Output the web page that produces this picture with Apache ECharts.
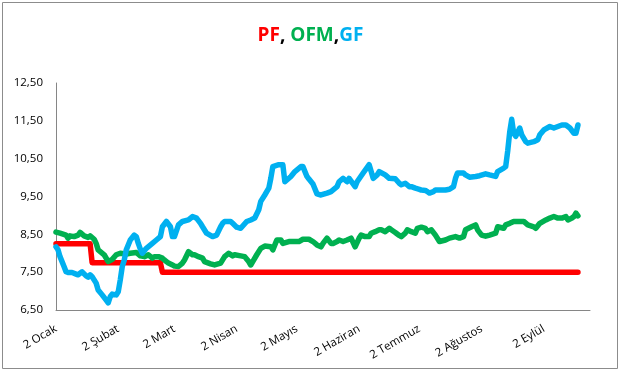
<!DOCTYPE html>
<html>
<head>
<meta charset="utf-8">
<script src="https://cdn.jsdelivr.net/npm/echarts@6/dist/echarts.min.js"></script>
<style>
  html, body { margin: 0; padding: 0; background: #fff; }
  #chart { width: 621px; height: 375px; }
</style>
</head>
<body>
<div id="chart"></div>
<script>
// ---- Data (year 2015, dates as MM-DD) ----
const year = 2015;
const axisStart = '01-02';
const axisEnd = '09-25';

const tickDates = ['01-02', '02-02', '03-02', '04-02', '05-02', '06-02', '07-02', '08-02', '09-02'];
const tickLabels = ['2 Ocak', '2 Şubat', '2 Mart', '2 Nisan', '2 Mayıs', '2 Haziran', '2 Temmuz', '2 Ağustos', '2 Eylül'];

const yTicks = [6.5, 7.5, 8.5, 9.5, 10.5, 11.5, 12.5];

// PF (policy rate)
const pfDates  = ['01-02', '01-19', '01-20', '02-23', '02-24', '09-19'];
const pfValues = [8.25, 8.25, 7.75, 7.75, 7.50, 7.50];

// OFM
const ofmDates = ['01-02','01-04','01-07','01-08','01-09','01-11','01-13','01-14','01-16','01-18','01-19','01-21','01-22','01-23','01-26','01-28','01-30',
  '02-01','02-03','02-06','02-08','02-11','02-13','02-15','02-17','02-19','02-20','02-22','02-24','02-25','02-27',
  '03-01','03-02','03-04','03-06','03-07','03-09','03-11','03-12','03-14','03-16','03-17','03-20','03-22','03-25','03-27','03-29','03-31',
  '04-01','04-04','04-06','04-08','04-09','04-10','04-12','04-14','04-16','04-19','04-20','04-22','04-24','04-25','04-28','04-30',
  '05-03','05-05','05-08','05-10','05-12','05-14','05-15','05-17','05-19','05-20','05-22','05-23','05-25','05-27','05-29','05-31',
  '06-02','06-03','06-05','06-07','06-08','06-10','06-12','06-13','06-15','06-17','06-18','06-20','06-22','06-23','06-25','06-26','06-28','06-30',
  '07-01','07-03','07-05','07-06','07-08','07-10','07-12','07-15','07-17','07-20','07-22','07-24','07-25','07-28','07-30','07-31',
  '08-02','08-04','08-06','08-09','08-10','08-13','08-14','08-16','08-18','08-20','08-23','08-25','08-28','08-29','08-31',
  '09-03','09-05','09-07','09-09','09-11','09-13','09-14','09-16','09-17','09-18','09-19'];
const ofmValues = [8.56,8.53,8.48,8.40,8.46,8.44,8.48,8.55,8.46,8.42,8.46,8.37,8.26,8.09,7.96,7.78,7.84,
  7.96,8.00,7.98,8.00,8.02,7.93,7.91,7.96,7.87,7.91,7.91,7.87,7.82,7.74,
  7.69,7.66,7.65,7.74,7.82,8.04,7.96,7.96,7.91,7.87,7.78,7.72,7.69,7.74,7.91,8.00,7.93,
  7.96,7.93,7.91,7.78,7.69,7.78,7.96,8.13,8.19,8.17,8.09,8.35,8.35,8.26,8.31,8.31,
  8.31,8.37,8.37,8.31,8.22,8.17,8.26,8.40,8.26,8.26,8.31,8.35,8.31,8.35,8.40,8.17,
  8.40,8.48,8.44,8.44,8.53,8.57,8.62,8.62,8.57,8.66,8.62,8.55,8.47,8.44,8.53,8.62,8.57,8.53,
  8.66,8.69,8.66,8.57,8.62,8.48,8.31,8.35,8.40,8.44,8.40,8.44,8.62,8.70,8.75,8.62,
  8.48,8.45,8.48,8.53,8.70,8.66,8.75,8.79,8.84,8.84,8.84,8.75,8.70,8.66,8.79,
  8.88,8.93,8.97,8.93,8.93,8.97,8.88,8.93,8.97,9.06,8.99];

// GF
const gfDates = ['01-02','01-03','01-04','01-06','01-07','01-08','01-10','01-12','01-13','01-15','01-17','01-18','01-19','01-20','01-22','01-23','01-25','01-27','01-28','01-29','01-30',
  '02-01','02-02','02-03','02-04','02-05','02-06','02-08','02-10','02-11','02-12','02-13','02-14','02-16','02-19','02-21','02-23','02-24','02-26','02-28',
  '03-01','03-02','03-04','03-06','03-09','03-11','03-13','03-15','03-16','03-18','03-21','03-23','03-25','03-26','03-27','03-30','03-31',
  '04-02','04-04','04-05','04-07','04-09','04-11','04-13','04-14','04-16','04-18','04-19','04-20','04-23','04-25','04-26','04-29',
  '05-01','05-04','05-05','05-07','05-08','05-10','05-12','05-14','05-17','05-19','05-22','05-23','05-25','05-27','05-28','05-31',
  '06-01','06-04','06-07','06-08','06-09','06-11','06-12','06-15','06-17','06-20','06-22','06-23','06-25','06-27','06-28','06-30',
  '07-02','07-03','07-05','07-06','07-07','07-09','07-10','07-13','07-15','07-17','07-19','07-20','07-21','07-24','07-25','07-27','07-30',
  '08-01','08-04','08-06','08-09','08-10','08-13','08-14','08-15','08-16','08-17','08-18','08-19','08-21','08-22','08-24','08-25','08-28','08-30','08-31',
  '09-02','09-05','09-07','09-11','09-13','09-15','09-17','09-18','09-19'];
const gfValues = [8.17,8.09,7.91,7.65,7.51,7.49,7.49,7.45,7.43,7.51,7.40,7.37,7.43,7.38,7.21,7.03,6.90,6.76,6.69,6.85,6.92,
  6.90,6.98,7.29,7.65,7.82,8.09,8.35,8.48,8.44,8.26,8.11,8.00,8.13,8.26,8.35,8.44,8.70,8.84,8.70,
  8.44,8.44,8.75,8.84,8.88,8.97,8.93,8.79,8.70,8.53,8.44,8.48,8.70,8.79,8.84,8.84,8.79,
  8.69,8.66,8.72,8.84,8.88,8.93,9.15,9.37,9.54,9.72,9.98,10.29,10.34,10.34,9.89,10.03,
  10.16,10.29,10.29,10.03,9.96,9.83,9.57,9.54,9.59,9.63,9.76,9.89,9.98,9.89,9.98,9.76,
  9.89,10.12,10.34,10.16,9.98,10.07,10.16,10.07,9.98,9.97,9.85,9.81,9.85,9.76,9.76,9.72,
  9.69,9.67,9.66,9.63,9.59,9.63,9.67,9.67,9.67,9.69,9.76,9.98,10.12,10.12,10.07,10.01,10.03,
  10.05,10.10,10.07,10.03,10.16,10.25,10.29,10.70,11.20,11.54,11.17,11.09,11.31,11.13,10.95,10.91,10.95,11.00,11.13,
  11.26,11.35,11.31,11.39,11.39,11.31,11.17,11.17,11.39];

// ---- helpers ----
const base = Date.UTC(year, 0, 2);
function dayOf(md) {
  const [m, d] = md.split('-').map(Number);
  return Math.round((Date.UTC(year, m - 1, d) - base) / 86400000);
}
function pairs(dates, values) {
  return dates.map((d, i) => [dayOf(d), values[i]]);
}
const tickDays = tickDates.map(dayOf);
const labelByDay = {};
tickDays.forEach((d, i) => { labelByDay[d] = tickLabels[i]; });

const FONT = '"Open Sans", "Noto Sans", sans-serif';
const RED = '#FF0000', GREEN = '#00B050', BLUE = '#00B0F0';

const chart = echarts.init(document.getElementById('chart'), null, { renderer: 'canvas' });

function lineSeries(name, data, color) {
  return {
    name, type: 'line', data,
    showSymbol: false, symbol: 'none',
    lineStyle: { color, width: 5.5, cap: 'round', join: 'round' },
    itemStyle: { color },
    animation: false,
    z: 2
  };
}

chart.setOption({
  backgroundColor: '#ffffff',
  animation: false,
  title: {
    left: 'center',
    top: 21,
    text: '{r|PF}{k|, }{g|OFM}{k|,}{b|GF}',
    textStyle: {
      fontFamily: FONT,
      fontSize: 19,
      fontWeight: 'bold',
      rich: {
        r: { color: RED, fontFamily: FONT, fontSize: 19, fontWeight: 'bold' },
        g: { color: GREEN, fontFamily: FONT, fontSize: 19, fontWeight: 'bold' },
        b: { color: BLUE, fontFamily: FONT, fontSize: 19, fontWeight: 'bold' },
        k: { color: '#000', fontFamily: FONT, fontSize: 19, fontWeight: 'bold' }
      }
    }
  },
  graphic: [{
    type: 'rect',
    shape: { x: 2.5, y: 2.5, width: 615, height: 366 },
    style: { fill: 'none', stroke: '#8c8c8c', lineWidth: 1 },
    silent: true, z: -1
  }],
  grid: { left: 56, right: 31, top: 83, bottom: 65, containLabel: false },
  xAxis: {
    type: 'value',
    min: dayOf(axisStart),
    max: dayOf(axisEnd),
    axisLine: { show: true, lineStyle: { color: '#868686', width: 1 } },
    axisTick: { show: false },
    splitLine: { show: false },
    axisLabel: {
      customValues: tickDays,
      rotate: 30,
      margin: 18,
      color: '#000',
      fontFamily: FONT,
      fontSize: 11.5,
      formatter: (v) => labelByDay[v] || ''
    }
  },
  yAxis: {
    type: 'value',
    min: yTicks[0],
    max: yTicks[yTicks.length - 1],
    interval: 1,
    axisLine: { show: true, lineStyle: { color: '#868686', width: 1 } },
    axisTick: { show: false },
    splitLine: { show: false },
    axisLabel: {
      margin: 13,
      color: '#000',
      fontFamily: FONT,
      fontSize: 11.5,
      formatter: (v) => v.toFixed(2).replace('.', ',')
    }
  },
  series: [
    lineSeries('PF', pairs(pfDates, pfValues), RED),
    lineSeries('OFM', pairs(ofmDates, ofmValues), GREEN),
    lineSeries('GF', pairs(gfDates, gfValues), BLUE)
  ]
});
</script>
</body>
</html>
